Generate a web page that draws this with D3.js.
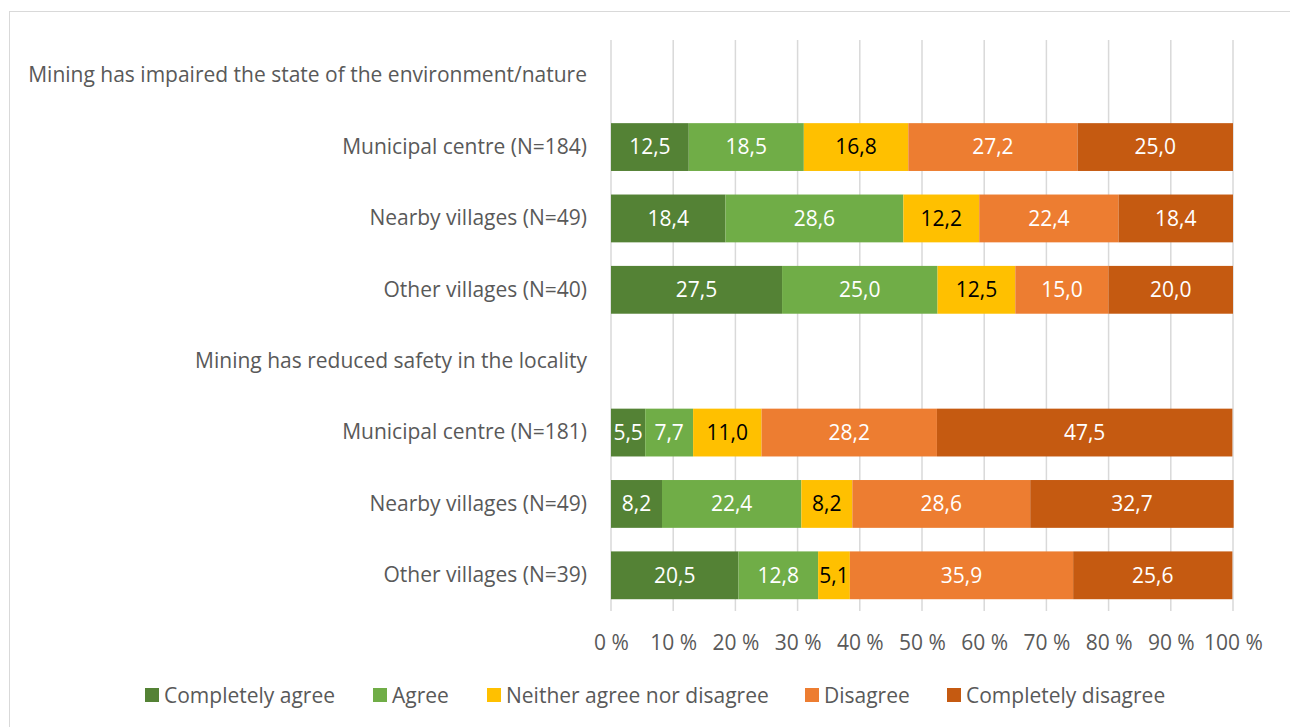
<!DOCTYPE html>
<html>
<head>
<meta charset="utf-8">
<script src="https://cdn.jsdelivr.net/npm/d3@7"></script>
<style>
  body { margin: 0; background: #fff; }
  text { font-family: "Open Sans", "Noto Sans", sans-serif; }
</style>
</head>
<body>
<svg id="chart" width="1290" height="727"></svg>
<script>
var rowLabels = [
  "Mining has impaired the state of the environment/nature",
  "Municipal centre (N=184)",
  "Nearby villages (N=49)",
  "Other villages (N=40)",
  "Mining has reduced safety in the locality",
  "Municipal centre (N=181)",
  "Nearby villages (N=49)",
  "Other villages (N=39)"
];
var seriesNames = ["Completely agree", "Agree", "Neither agree nor disagree", "Disagree", "Completely disagree"];
var seriesColors = ["#548235", "#70ad47", "#ffc000", "#ed7d31", "#c55a11"];
var labelColors = ["#ffffff", "#ffffff", "#000000", "#ffffff", "#ffffff"];
// null = header row without bars
var completelyAgree = [null, 12.5, 18.4, 27.5, null, 5.5, 8.2, 20.5];
var agree = [null, 18.5, 28.6, 25.0, null, 7.7, 22.4, 12.8];
var neither = [null, 16.8, 12.2, 12.5, null, 11.0, 8.2, 5.1];
var disagree = [null, 27.2, 22.4, 15.0, null, 28.2, 28.6, 35.9];
var completelyDisagree = [null, 25.0, 18.4, 20.0, null, 47.5, 32.7, 25.6];
var tickValues = [0, 10, 20, 30, 40, 50, 60, 70, 80, 90, 100];

var series = [completelyAgree, agree, neither, disagree, completelyDisagree];

var svg = d3.select("#chart");
var textGray = "#595959";
var fontSize = 21;

// chart border
svg.append("rect")
  .attr("x", 9.5).attr("y", 11.5)
  .attr("width", 1290).attr("height", 730)
  .attr("fill", "none").attr("stroke", "#d9d9d9");

var x = d3.scaleLinear().domain([0, 100]).range([611, 1233]);
var y = d3.scaleBand()
  .domain(d3.range(rowLabels.length))
  .range([40, 611])
  .paddingInner(0.33)
  .paddingOuter(0.165);

// gridlines
svg.append("g").selectAll("line")
  .data(tickValues)
  .enter().append("line")
  .attr("x1", function(d) { return x(d); })
  .attr("x2", function(d) { return x(d); })
  .attr("y1", 40).attr("y2", 611)
  .attr("stroke", "#d9d9d9").attr("stroke-width", 1.5);

// stacked segments
var rows = d3.range(rowLabels.length).filter(function(i) { return completelyAgree[i] != null; });
var segs = [];
rows.forEach(function(i) {
  var acc = 0;
  series.forEach(function(s, k) {
    segs.push({row: i, k: k, x0: acc, x1: acc + s[i], v: s[i]});
    acc += s[i];
  });
});

var seg = svg.append("g").selectAll("g")
  .data(segs)
  .enter().append("g");

seg.append("rect")
  .attr("x", function(d) { return x(d.x0); })
  .attr("width", function(d) { return x(d.x1) - x(d.x0); })
  .attr("y", function(d) { return y(d.row); })
  .attr("height", y.bandwidth())
  .attr("fill", function(d) { return seriesColors[d.k]; });

seg.append("text")
  .attr("x", function(d) { return (x(d.x0) + x(d.x1)) / 2; })
  .attr("y", function(d) { return y(d.row) + y.bandwidth() / 2; })
  .attr("dy", "0.35em")
  .attr("text-anchor", "middle")
  .attr("font-size", fontSize)
  .attr("fill", function(d) { return labelColors[d.k]; })
  .text(function(d) { return d.v.toFixed(1).replace(".", ","); });

// category axis
var yAxis = svg.append("g")
  .attr("transform", "translate(611,0)")
  .call(d3.axisLeft(y).tickSize(0).tickPadding(24).tickFormat(function(i) { return rowLabels[i]; }));
yAxis.select(".domain").remove();
yAxis.selectAll("text")
  .attr("font-size", fontSize)
  .attr("fill", textGray)
  .style("font-family", "\"Open Sans\", sans-serif");

// value axis
var xAxis = svg.append("g")
  .attr("transform", "translate(0,611)")
  .call(d3.axisBottom(x).tickValues(tickValues).tickSize(0).tickPadding(24)
    .tickFormat(function(d) { return d + " %"; }));
xAxis.select(".domain").remove();
xAxis.selectAll("text")
  .attr("font-size", fontSize)
  .attr("fill", textGray)
  .style("font-family", "\"Open Sans\", sans-serif");

// legend
var legendX = [145, 373, 487, 805, 947];
var legend = svg.append("g").selectAll("g")
  .data(seriesNames)
  .enter().append("g")
  .attr("transform", function(d, i) { return "translate(" + legendX[i] + ",688)"; });
legend.append("rect")
  .attr("width", 14).attr("height", 14)
  .attr("fill", function(d, i) { return seriesColors[i]; });
legend.append("text")
  .attr("x", 19).attr("y", 7).attr("dy", "0.38em")
  .attr("font-size", fontSize)
  .attr("fill", textGray)
  .text(function(d) { return d; });
</script>
</body>
</html>
